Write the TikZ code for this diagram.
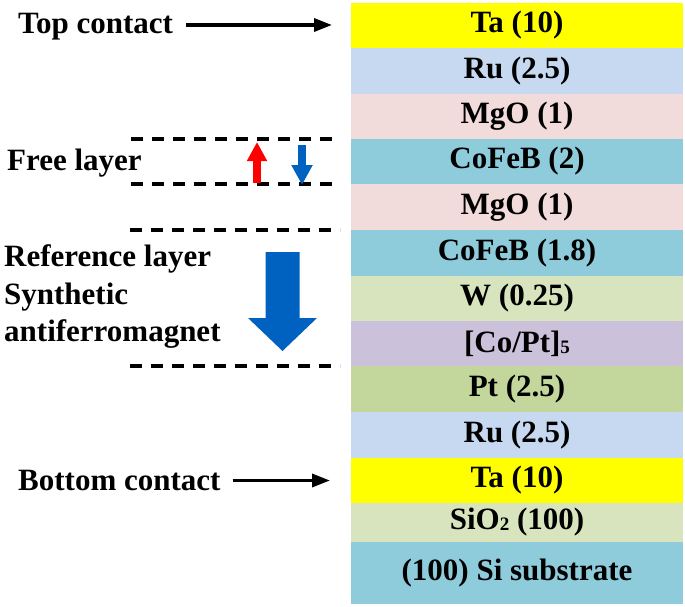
\documentclass[tikz,border=0pt]{standalone}
\usepackage{fontspec}
\setmainfont{Liberation Serif}
\usetikzlibrary{arrows.meta}
\definecolor{cTa}{HTML}{FFFF00}
\definecolor{cRu}{HTML}{C6D9F1}
\definecolor{cMgO}{HTML}{F2DCDB}
\definecolor{cCoFeB}{HTML}{8ECBDB}
\definecolor{cW}{HTML}{D7E4BD}
\definecolor{cCoPt}{HTML}{CCC1DA}
\definecolor{cPt}{HTML}{C3D69B}
\definecolor{cBlue}{HTML}{0062C0}
\newcommand{\lsub}[1]{{\fontsize{19}{19}\selectfont\raisebox{-1pt}{#1}}}
\begin{document}
\begin{tikzpicture}[x=1pt,y=-1pt,
  layer/.style={fill=#1, draw=none, minimum width=332pt, inner sep=0pt, outer sep=0pt,
    font=\fontsize{31}{37}\selectfont\bfseries, text=black},
  lbl/.style={anchor=west, inner sep=0pt, font=\fontsize{31}{37.5}\selectfont\bfseries, align=left},
  dline/.style={line width=3.4pt, dash pattern=on 12pt off 9pt},
  carrow/.style={line width=3.4pt, -{Triangle[length=18pt,width=13pt]}},
  spinarrow/.style={line width=8pt, -{Triangle[length=20pt,width=20pt]}}
]
\useasboundingbox (0,0) rectangle (685,607);
% layer stack
\node[layer=cTa,    minimum height=45pt] (l1)  at (517,25.5)  {Ta (10)};
\node[layer=cRu,    minimum height=46pt] (l2)  at (517,71)    {Ru (2.5)};
\node[layer=cMgO,   minimum height=45pt] (l3)  at (517,116.5) {MgO (1)};
\node[layer=cCoFeB, minimum height=45pt] (l4)  at (517,161.5) {CoFeB (2)};
\node[layer=cMgO,   minimum height=46pt] (l5)  at (517,207)   {MgO (1)};
\node[layer=cCoFeB, minimum height=46pt] (l6)  at (517,253)   {CoFeB (1.8)};
\node[layer=cW,     minimum height=45pt] (l7)  at (517,298.5) {W (0.25)};
\node[layer=cCoPt,  minimum height=45pt] (l8)  at (517,343.5) {[Co/Pt]\lsub{5}};
\node[layer=cPt,    minimum height=46pt] (l9)  at (517,389)   {Pt (2.5)};
\node[layer=cRu,    minimum height=46pt] (l10) at (517,435)   {Ru (2.5)};
\node[layer=cTa,    minimum height=45pt] (l11) at (517,480.5) {Ta (10)};
\node[layer=cW,     minimum height=39pt] (l12) at (517,522.5) {SiO\lsub{2} (100)};
\node[layer=cCoFeB, minimum height=62pt] (l13) at (517,573)   {(100) Si substrate};
% left labels
\node[lbl] (top) at (18,27) {Top contact};
\node[lbl] (free) at (7,163) {Free layer};
\node[lbl] (ref) at (4,297) {Reference layer\\Synthetic\\antiferromagnet};
\node[lbl] (bot) at (18,480.5) {Bottom contact};
% contact arrows
\draw[carrow, shorten <=13pt, shorten >=19pt] ([yshift=2pt]top.east) -- ([yshift=2pt]top.east -| l1.west);
\draw[carrow, shorten <=12pt, shorten >=21pt] (bot.east) -- (bot.east -| l11.west);
% dashed lines
\draw[dline] ([xshift=-220pt]l4.north west) -- ([xshift=-11pt]l4.north west);
\draw[dline] ([xshift=-220pt]l4.south west) -- ([xshift=-11pt]l4.south west);
\draw[dline] ([xshift=-221pt]l6.north west) -- ([xshift=-11pt]l6.north west);
\draw[dline] ([xshift=-221pt]l8.south west) -- ([xshift=-11pt]l8.south west);
% free layer spins
\draw[spinarrow, red, -{Triangle[length=19pt,width=19pt]}] (257,183) -- (257,142);
\draw[spinarrow, cBlue] (302,145) -- (302,185);
% reference layer arrow
\fill[cBlue] (265.5,252) -- (299.5,252) -- (299.5,318) -- (317,318) -- (282.5,351)
  -- (248,318) -- (265.5,318) -- cycle;
\end{tikzpicture}
\end{document}
